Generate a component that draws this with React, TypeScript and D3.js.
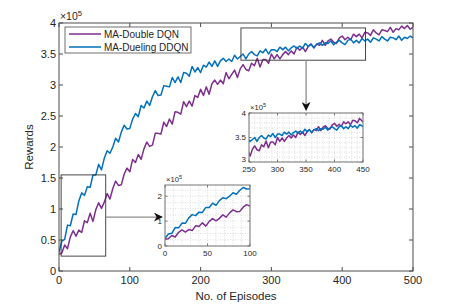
import React from "react";
import * as d3 from "d3";

// episodes sampled every 4
const episodes = d3.range(0, 501, 4);

// rewards, in units of 1e5
const doubleDQN = [
  0.27, 0.29, 0.42, 0.36, 0.55, 0.65, 0.56, 0.66, 0.62, 0.81,
  0.78, 0.93, 0.80, 0.99, 1.10, 1.01, 1.11, 1.25, 1.16, 1.33,
  1.45, 1.38, 1.39, 1.56, 1.66, 1.60, 1.80, 1.75, 1.88, 1.80,
  1.97, 2.08, 2.01, 2.03, 2.22, 2.22, 2.21, 2.40, 2.33, 2.45,
  2.37, 2.57, 2.56, 2.53, 2.73, 2.65, 2.74, 2.66, 2.83, 2.80,
  2.93, 2.83, 2.97, 2.85, 3.02, 3.08, 3.01, 3.08, 3.02, 3.20,
  3.10, 3.17, 3.24, 3.12, 3.26, 3.33, 3.25, 3.23, 3.35, 3.31,
  3.43, 3.29, 3.41, 3.41, 3.35, 3.50, 3.42, 3.49, 3.42, 3.49,
  3.54, 3.49, 3.55, 3.50, 3.61, 3.56, 3.61, 3.54, 3.62, 3.66,
  3.60, 3.66, 3.64, 3.72, 3.64, 3.71, 3.74, 3.69, 3.67, 3.76,
  3.79, 3.73, 3.77, 3.73, 3.82, 3.78, 3.82, 3.76, 3.85, 3.84,
  3.80, 3.89, 3.84, 3.81, 3.89, 3.88, 3.86, 3.93, 3.85, 3.91,
  3.89, 3.95, 3.91, 3.96, 3.90, 3.93,
];
const duelingDDQN = [
  0.30, 0.48, 0.51, 0.74, 0.73, 0.92, 0.91, 1.13, 1.26, 1.22,
  1.36, 1.35, 1.55, 1.55, 1.72, 1.63, 1.82, 1.94, 1.90, 2.00,
  2.14, 2.08, 2.24, 2.35, 2.29, 2.30, 2.45, 2.54, 2.49, 2.67,
  2.63, 2.74, 2.67, 2.81, 2.91, 2.83, 2.84, 2.99, 2.98, 2.97,
  3.12, 3.04, 3.13, 3.04, 3.20, 3.19, 3.14, 3.30, 3.21, 3.28,
  3.20, 3.32, 3.29, 3.37, 3.30, 3.39, 3.30, 3.39, 3.43, 3.38,
  3.42, 3.38, 3.48, 3.42, 3.46, 3.50, 3.42, 3.50, 3.54, 3.49,
  3.47, 3.55, 3.52, 3.58, 3.50, 3.57, 3.57, 3.54, 3.61, 3.57,
  3.61, 3.55, 3.60, 3.63, 3.59, 3.63, 3.59, 3.67, 3.62, 3.66,
  3.60, 3.66, 3.68, 3.64, 3.68, 3.67, 3.71, 3.65, 3.69, 3.72,
  3.68, 3.65, 3.72, 3.74, 3.68, 3.72, 3.68, 3.75, 3.71, 3.74,
  3.69, 3.76, 3.74, 3.71, 3.78, 3.74, 3.71, 3.77, 3.76, 3.73,
  3.79, 3.72, 3.77, 3.75, 3.79, 3.76,
];

const seriesNames = ["MA-Double DQN", "MA-Dueling DDQN"];
const seriesColors = ["#7E2F8E", "#0072BD"];

const xTicks = [0, 100, 200, 300, 400, 500];
const yTicks = [0, 0.5, 1, 1.5, 2, 2.5, 3, 3.5, 4];
const inset1XTicks = [0, 50, 100];
const inset1YTicks = [0, 1, 2];
const inset2XTicks = [250, 300, 350, 400, 450];
const inset2YTicks = [3, 3.5, 4];

const font = "'Liberation Sans', Arial, sans-serif";
const textColor = "#262626";

type Panel = {
  id: string;
  left: number; right: number; top: number; bottom: number;
  xDomain: [number, number]; yDomain: [number, number];
  xTicks: number[]; yTicks: number[];
  fontSize: number; tickLen: number;
  grid?: { dx: number; dy: number };
  frame: string;
  lowLabelLift?: number;
};

function Axes({ p }: { p: Panel }) {
  const x = d3.scaleLinear().domain(p.xDomain).range([p.left, p.right]);
  const y = d3.scaleLinear().domain(p.yDomain).range([p.bottom, p.top]);
  const series = [doubleDQN, duelingDDQN];
  const line = d3.line<[number, number]>().x(d => x(d[0])).y(d => y(d[1]));
  const gx = p.grid ? d3.range(p.xDomain[0], p.xDomain[1] + 1e-9, p.grid.dx) : [];
  const gy = p.grid ? d3.range(p.yDomain[0], p.yDomain[1] + 1e-9, p.grid.dy) : [];
  const fmt = (v: number) => String(+v.toFixed(2));
  return (
    <g>
      <defs>
        <clipPath id={p.id}>
          <rect x={p.left} y={p.top} width={p.right - p.left} height={p.bottom - p.top} />
        </clipPath>
      </defs>
      <rect x={p.left} y={p.top} width={p.right - p.left} height={p.bottom - p.top} fill="#fff" />
      {gx.map((v, i) => (
        <line key={"gx" + i} x1={x(v)} x2={x(v)} y1={p.top} y2={p.bottom}
          stroke="#c8c8c8" strokeWidth={0.6} strokeDasharray="1,1.5" />
      ))}
      {gy.map((v, i) => (
        <line key={"gy" + i} x1={p.left} x2={p.right} y1={y(v)} y2={y(v)}
          stroke="#c8c8c8" strokeWidth={0.6} strokeDasharray="1,1.5" />
      ))}
      <g clipPath={`url(#${p.id})`}>
        {series.map((s, k) => {
          const pts = episodes
            .map((e, i) => [e, s[i]] as [number, number])
            .filter(d => d[0] >= p.xDomain[0] - 4 && d[0] <= p.xDomain[1] + 4);
          return <path key={k} d={line(pts) || ""} fill="none" stroke={seriesColors[k]}
            strokeWidth={1.5} strokeLinejoin="round" />;
        })}
      </g>
      {p.xTicks.map(v => (
        <g key={"xt" + v}>
          <line x1={x(v)} x2={x(v)} y1={p.bottom} y2={p.bottom - p.tickLen} stroke={p.frame} />
          <line x1={x(v)} x2={x(v)} y1={p.top} y2={p.top + p.tickLen} stroke={p.frame} />
          <text x={x(v)} y={p.bottom + p.fontSize + 2} textAnchor="middle"
            fontSize={p.fontSize} fill={textColor}>{fmt(v)}</text>
        </g>
      ))}
      {p.yTicks.map((v, i) => (
        <g key={"yt" + v}>
          <line x1={p.left} x2={p.left + p.tickLen} y1={y(v)} y2={y(v)} stroke={p.frame} />
          <line x1={p.right} x2={p.right - p.tickLen} y1={y(v)} y2={y(v)} stroke={p.frame} />
          <text x={p.left - 3} y={y(v) - (i === 0 && p.lowLabelLift ? p.lowLabelLift : 0)} dy="0.35em"
            textAnchor="end" fontSize={p.fontSize} fill={textColor}>{fmt(v)}</text>
        </g>
      ))}
      <rect x={p.left} y={p.top} width={p.right - p.left} height={p.bottom - p.top}
        fill="none" stroke={p.frame} strokeWidth={1} />
      <text x={p.left + 1} y={p.top - 3} fontSize={p.fontSize * 0.95} fill={textColor}>
        ×10<tspan dy={-p.fontSize * 0.35} fontSize={p.fontSize * 0.7}>5</tspan>
      </text>
    </g>
  );
}

export default function App() {
  const main: Panel = {
    id: "clipMain", left: 59, right: 413, top: 23, bottom: 271,
    xDomain: [0, 500], yDomain: [0, 4], xTicks, yTicks,
    fontSize: 11, tickLen: 4, frame: "#4d4d4d",
  };
  const inset1: Panel = {
    id: "clipIn1", left: 165, right: 250, top: 185, bottom: 246,
    xDomain: [0, 100], yDomain: [0, 2.45], xTicks: inset1XTicks, yTicks: inset1YTicks,
    fontSize: 8, tickLen: 2.5, grid: { dx: 10, dy: 0.25 }, frame: "#777",
  };
  const inset2: Panel = {
    id: "clipIn2", left: 249, right: 363, top: 113, bottom: 162,
    xDomain: [250, 450], yDomain: [3, 4], xTicks: inset2XTicks, yTicks: inset2YTicks,
    fontSize: 8, tickLen: 2.5, grid: { dx: 10, dy: 0.1 }, frame: "#777", lowLabelLift: 3,
  };
  const mx = d3.scaleLinear().domain(main.xDomain).range([main.left, main.right]);
  const my = d3.scaleLinear().domain(main.yDomain).range([main.bottom, main.top]);
  // zoomed regions marked on the main axes
  const zoom1 = { x0: 3, x1: 66, y0: 0.24, y1: 1.55 };
  const zoom2 = { x0: 257, x1: 433, y0: 3.40, y1: 3.92 };
  const arrowY = my(0.87);
  const arrowX = mx(349);

  return (
    <svg width={457} height={305} style={{ position: "absolute", left: 0, top: 0 }}
      fontFamily={font}>
      <defs>
        <marker id="head" viewBox="0 0 10 10" refX="9" refY="5" markerWidth="9" markerHeight="9"
          orient="auto" markerUnits="userSpaceOnUse">
          <path d="M0,0 L10,5 L0,10 L3,5 Z" fill="#111" />
        </marker>
      </defs>
      <rect width={457} height={305} fill="#fff" />
      <Axes p={main} />

      {/* legend */}
      <rect x={65} y={27} width={126} height={26} fill="#fff" stroke="#4d4d4d" strokeWidth={0.8} />
      {seriesNames.map((n, i) => (
        <g key={n}>
          <line x1={69} x2={101} y1={34 + i * 13} y2={34 + i * 13} stroke={seriesColors[i]} strokeWidth={1.5} />
          <text x={104} y={34 + i * 13} dy="0.35em" fontSize={10} fill={textColor}>{n}</text>
        </g>
      ))}

      {/* zoom boxes */}
      <rect x={mx(zoom1.x0)} y={my(zoom1.y1)} width={mx(zoom1.x1) - mx(zoom1.x0)}
        height={my(zoom1.y0) - my(zoom1.y1)} fill="none" stroke="#333" strokeWidth={0.9} />
      <rect x={mx(zoom2.x0)} y={my(zoom2.y1)} width={mx(zoom2.x1) - mx(zoom2.x0)}
        height={my(zoom2.y0) - my(zoom2.y1)} fill="none" stroke="#333" strokeWidth={0.9} />

      {/* arrows */}
      <line x1={mx(zoom1.x1)} x2={inset1.left - 3} y1={arrowY} y2={arrowY}
        stroke="#8c8c8c" strokeWidth={1.3} markerEnd="url(#head)" />
      <line x1={arrowX} x2={arrowX} y1={my(zoom2.y0)} y2={inset2.top - 3}
        stroke="#8c8c8c" strokeWidth={1.3} markerEnd="url(#head)" />

      <Axes p={inset1} />
      <Axes p={inset2} />

      <text x={236} y={300} textAnchor="middle" fontSize={11.5} fill={textColor}>No. of Episodes</text>
      <text transform={`translate(33,${(main.top + main.bottom) / 2}) rotate(-90)`} textAnchor="middle"
        fontSize={11.5} fill={textColor}>Rewards</text>
    </svg>
  );
}
